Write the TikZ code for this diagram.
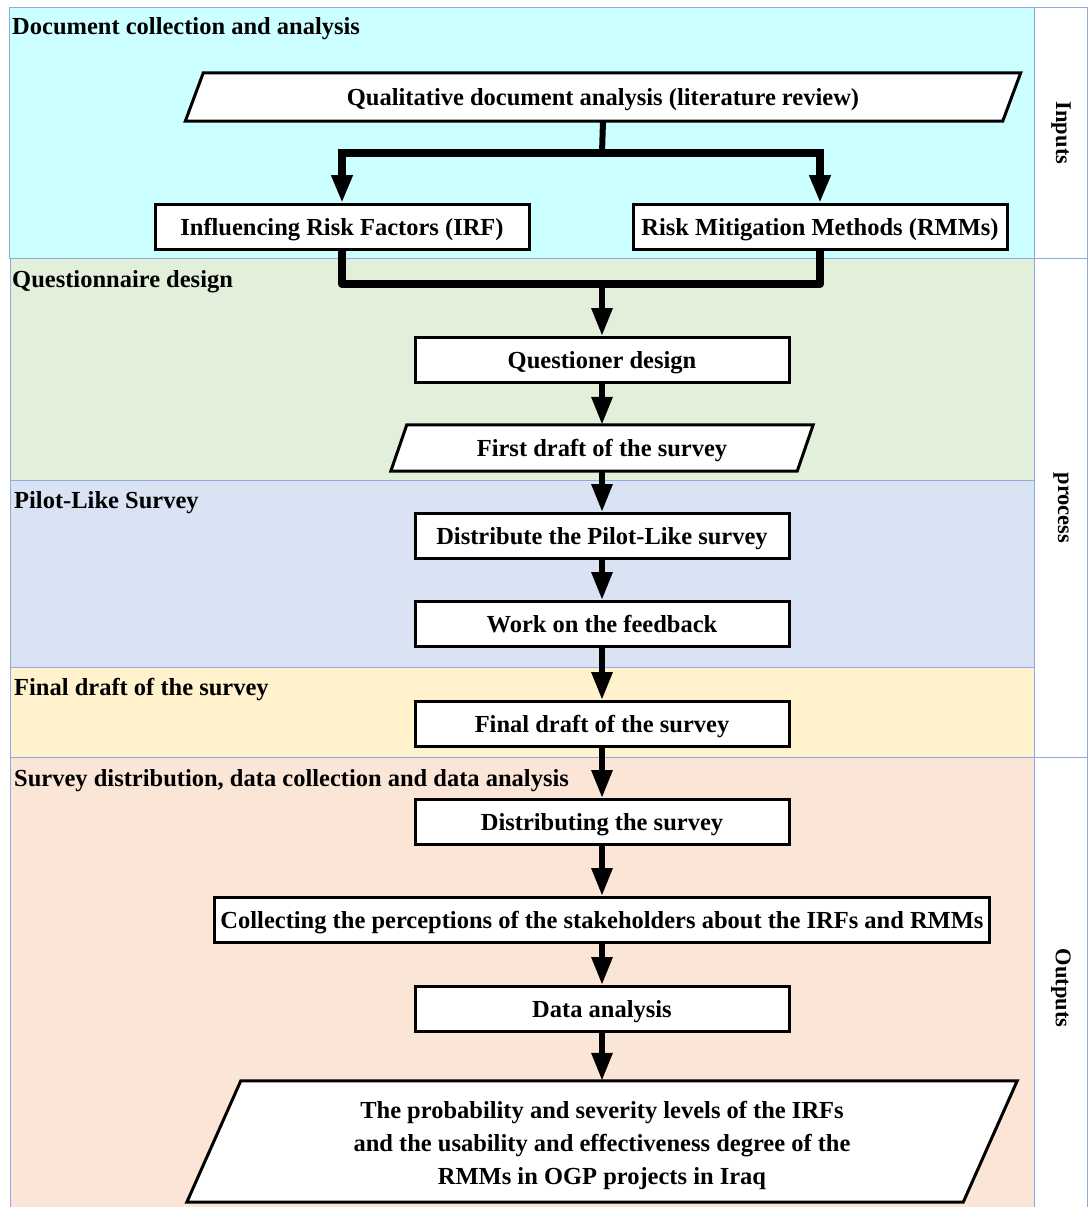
\documentclass[tikz,border=0pt]{standalone}
\usepackage{fontspec}
\setmainfont{Liberation Serif}
\newfontfamily\sidefont{Liberation Serif}
\usetikzlibrary{arrows.meta,calc}
\definecolor{bandA}{RGB}{204,255,255}
\definecolor{bandB}{RGB}{226,239,218}
\definecolor{bandC}{RGB}{218,227,243}
\definecolor{bandD}{RGB}{255,242,204}
\definecolor{bandE}{RGB}{251,229,214}
\definecolor{edgeblue}{RGB}{143,170,220}
\tikzset{
  band/.style={draw=edgeblue, line width=1pt},
  bandlabel/.style={anchor=west, inner sep=1pt, text height=16pt, text depth=0pt, font=\fontsize{24.5}{28}\selectfont\bfseries},
  sidelabel/.style={rotate=-90, inner sep=0pt, font=\sidefont\bfseries\fontsize{22.5}{26}\selectfont},
  boxnode/.style={draw=black, line width=3pt, fill=white, minimum width=374pt, minimum height=45pt, inner sep=0pt, text height=16pt, text depth=0pt, font=\fontsize{24.5}{33}\selectfont\bfseries},
  paratext/.style={inner sep=0pt, align=center, font=\fontsize{24.5}{33}\selectfont\bfseries},
  paraline/.style={draw=black, line width=3pt, fill=white, line join=miter},
  conn/.style={line width=6pt, -{Triangle[length=28pt,width=20pt]}},
  thickconn/.style={line width=8pt, line join=round},
}
\newcommand{\drawpara}[2]{%
  \path[paraline] ([xshift=#2]#1.north west) -- ([xshift=#2]#1.north east) -- ([xshift=-#2]#1.south east) -- ([xshift=-#2]#1.south west) -- cycle;}
\begin{document}
\begin{tikzpicture}[x=1pt,y=-1pt]
\useasboundingbox (0,0) rectangle (1091,1207);
\fill[white] (0,0) rectangle (1091,1207);
% bands
\path[band, fill=bandA] (9,8) rectangle (1034,258);
\path[band, fill=bandB] (10,258) rectangle (1034,480);
\path[band, fill=bandC] (10,480) rectangle (1034,667);
\path[band, fill=bandD] (10,667) rectangle (1034,757);
\path[band, fill=bandE] (10,757) rectangle (1034,1212);
% right column
\path[band] (1034,8) rectangle (1087,258);
\path[band] (1034,258) rectangle (1087,757);
\path[band] (1034,757) rectangle (1087,1212);
\node[sidelabel] (sA) at (1061,133) {Inputs};
\node[sidelabel] (sB) at (1061,508) {process};
\node[sidelabel] (sC) at (1061,988) {Outputs};
% band labels
\node[bandlabel] (lA) at (11,27) {Document collection and analysis};
\node[bandlabel] (lB) at (11,279) {Questionnaire design};
\node[bandlabel] (lC) at (13,500) {Pilot-Like Survey};
\node[bandlabel] (lD) at (13,687) {Final draft of the survey};
\node[bandlabel] (lE) at (13,778) {Survey distribution, data collection and data analysis};
% parallelograms
\node[paratext, minimum width=817pt, minimum height=48pt] (qda) at (603,97) {};
\drawpara{qda}{9pt}
\node[paratext, text height=16pt, text depth=0pt] at (qda) {Qualitative document analysis (literature review)};
\node[paratext, minimum width=406pt, minimum height=46pt] (fdr) at (602,448) {};
\drawpara{fdr}{8pt}
\node[paratext, text height=16pt, text depth=0pt] at (fdr) {First draft of the survey};
\node[paratext, minimum width=776pt, minimum height=121pt] (res) at (602,1141.5) {};
\drawpara{res}{27pt}
\node[paratext] at ([yshift=-4pt]res.center) {The probability and severity levels of the IRFs\\and the usability and effectiveness degree of the\\RMMs in OGP projects in Iraq};
% boxes
\node[boxnode] (irf) at (342,227) {Influencing Risk Factors (IRF)};
\node[boxnode] (rmm) at (820,227) {Risk Mitigation Methods (RMMs)};
\node[boxnode] (qd) at (602,360) {Questioner design};
\node[boxnode] (dp) at (602,536) {Distribute the Pilot-Like survey};
\node[boxnode] (wf) at (602,624) {Work on the feedback};
\node[boxnode] (fd) at (602,724) {Final draft of the survey};
\node[boxnode] (ds) at (602,822) {Distributing the survey};
\node[boxnode, minimum width=775pt] (col) at (602,920) {Collecting the perceptions of the stakeholders about the IRFs and RMMs};
\node[boxnode] (da) at (602,1009) {Data analysis};
% connectors
\coordinate (sp) at (602,153);
\coordinate (mg) at (602,284);
\draw[line width=6pt] (qda.south) -- (sp);
\draw[conn, line width=8pt] (sp) -| (irf.north);
\draw[conn, line width=8pt] (sp) -| (rmm.north);
\draw[thickconn] (irf.south) |- (mg) -| (rmm.south);
\draw[conn] (mg) -- (qd.north);
\draw[conn] (qd.south) -- (fdr.north);
\draw[conn] (fdr.south) -- (dp.north);
\draw[conn] (dp.south) -- (wf.north);
\draw[conn] (wf.south) -- (fd.north);
\draw[conn] (fd.south) -- (ds.north);
\draw[conn] (ds.south) -- (col.north);
\draw[conn] (col.south) -- (da.north);
\draw[conn] (da.south) -- (res.north);
\end{tikzpicture}
\end{document}
